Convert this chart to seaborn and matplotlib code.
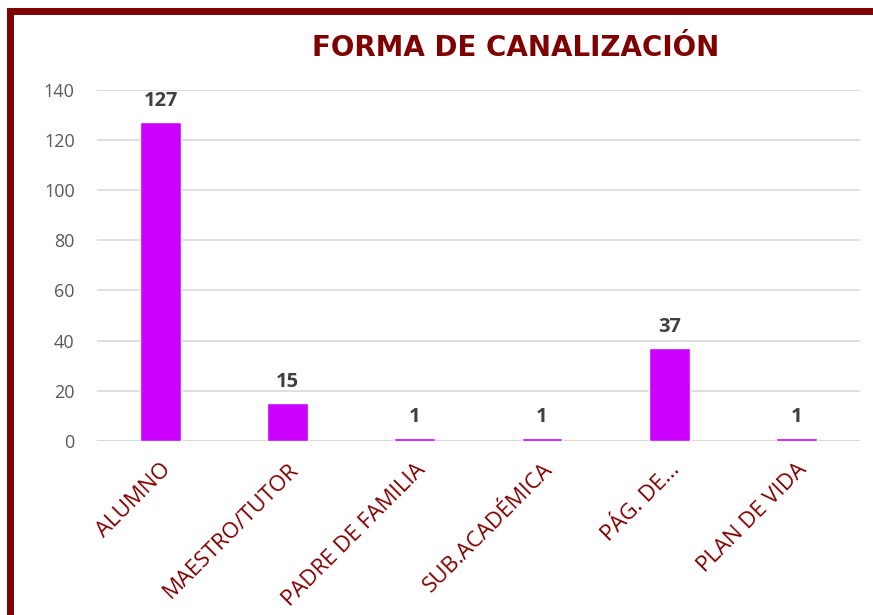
import numpy as np
import pandas as pd
import seaborn as sns
import matplotlib.pyplot as plt
from matplotlib.patches import Rectangle

categorias = ['ALUMNO', 'MAESTRO/TUTOR', 'PADRE DE FAMILIA', 'SUB.ACADÉMICA', 'PÁG. DE...', 'PLAN DE VIDA']
valores = [127, 15, 1, 1, 37, 1]
yticks = [0, 20, 40, 60, 80, 100, 120, 140]

rojo = '#7F0000'
magenta = '#CC00FF'

sns.set_style('white')
plt.rcParams['font.family'] = ['Open Sans', 'DejaVu Sans']

df = pd.DataFrame({'cat': categorias, 'val': valores})

fig = plt.figure(figsize=(8.73, 6.15), dpi=100)
ax = fig.add_axes([0.111, 0.283, 0.874, 0.571])

sns.barplot(data=df, x='cat', y='val', color=magenta, saturation=1, width=0.32, ax=ax)

ax.set_ylim(0, 140)
ax.set_yticks(yticks)
ax.yaxis.grid(True, color='#D9D9D9', lw=1.2)
ax.set_axisbelow(True)
for s in ax.spines.values():
    s.set_visible(False)
ax.axhline(0, color='#D9D9D9', lw=1.5, zorder=0)
ax.set_xlabel('')
ax.set_ylabel('')
ax.tick_params(axis='y', labelsize=13, labelcolor='#595959', length=0, pad=16)
ax.tick_params(axis='x', length=0, pad=13)
ax.set_xticks(range(len(categorias)))
ax.set_xticklabels(categorias, rotation=45, ha='right', rotation_mode='anchor',
                   color=rojo, fontsize=16)

for c in ax.containers:
    ax.bar_label(c, padding=8, fontsize=14.5, fontweight='bold', color='#404040')

fig.text(516 / 873, 1 - 48 / 615, 'FORMA DE CANALIZACIÓN', ha='center', va='center',
         fontsize=20, fontweight='bold', color=rojo, family='DejaVu Sans')

# marco
fig.patches.append(Rectangle((10 / 873, -0.1), 1.2, 1.1 - 11 / 615, transform=fig.transFigure,
                             fill=False, edgecolor=rojo, lw=5, zorder=10))

fig.savefig('out.png', dpi=100)
